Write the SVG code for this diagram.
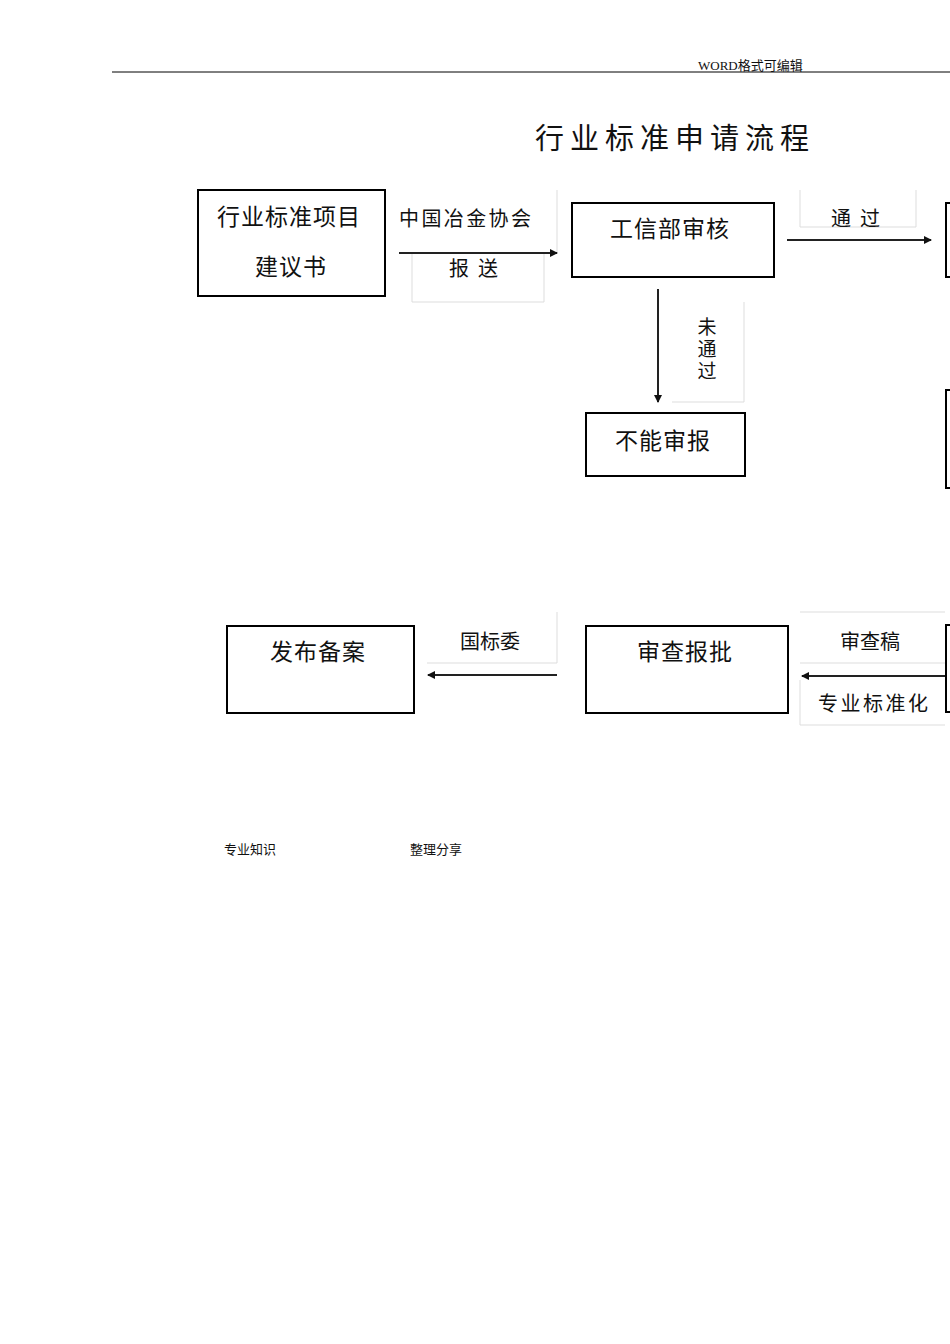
<svg xmlns="http://www.w3.org/2000/svg" width="950" height="1344" viewBox="0 0 950 1344">
<style>
text{font-family:"Noto Sans CJK SC","Liberation Serif",sans-serif;fill:#111}
.b{fill:none;stroke:#000;stroke-width:2}
.lb{fill:none;stroke:#ddd;stroke-width:1}
.c{stroke:#222;stroke-width:2;fill:none}
.t{font-size:23px;letter-spacing:1px}
.s{font-size:20px}
.v{font-size:19px;writing-mode:vertical-rl;letter-spacing:3px}
</style>
<defs><marker id="a" markerWidth="8" markerHeight="8" refX="7" refY="4" orient="auto" markerUnits="userSpaceOnUse"><path d="M0,0 L8,4 L0,8 Z" fill="#111"/></marker></defs>
<rect width="950" height="1344" fill="#fff"/>
<line x1="112" y1="72" x2="950" y2="72" stroke="#000" stroke-width="1"/>
<text x="698" y="70" style="font-family:'Liberation Serif','Noto Sans CJK SC',serif;font-size:13px">WORD格式可编辑</text>
<text x="535" y="149" style="font-size:29px;letter-spacing:6px">行业标准申请流程</text>
<g id="labels">
<polyline class="lb" points="557,190 557,253"/>
<polyline class="lb" points="412,253 412,302 544,302 544,253"/>
<polyline class="lb" points="800,190 800,227 916,227 916,190"/>
<polyline class="lb" points="744,302 744,402 672,402"/>
<polyline class="lb" points="427,663 557,663 557,612"/>
<polyline class="lb" points="800,612 945,612"/>
<polyline class="lb" points="800,663 945,663"/>
<polyline class="lb" points="800,680 800,725 945,725"/>
<text class="s" x="399" y="226" textLength="132">中国冶金协会</text>
<text class="s" x="449" y="276" xml:space="preserve">报  送</text>
<text class="s" x="831" y="226" xml:space="preserve">通  过</text>
<text class="v" x="707" y="317">未通过</text>
<text class="s" x="460" y="649">国标委</text>
<text class="s" x="840" y="649">审查稿</text>
<text class="s" x="818" y="711" textLength="110">专业标准化</text>
</g>
<g id="n1"><rect class="b" x="198" y="190" width="187" height="106"/><text class="t" x="217" y="225">行业标准项目</text><text class="t" x="255" y="275">建议书</text></g>
<g id="n2"><rect class="b" x="572" y="203" width="202" height="74"/><text class="t" x="610" y="237">工信部审核</text></g>
<g id="n3"><rect class="b" x="586" y="413" width="159" height="63"/><text class="t" x="615" y="449">不能审报</text></g>
<g id="n4"><rect class="b" x="946" y="203" width="20" height="74"/></g>
<g id="n5"><rect class="b" x="946" y="390" width="20" height="98"/></g>
<g id="n6"><rect class="b" x="946" y="625" width="20" height="87"/></g>
<g id="n7"><rect class="b" x="586" y="626" width="202" height="87"/><text class="t" x="637" y="660">审查报批</text></g>
<g id="n8"><rect class="b" x="227" y="626" width="187" height="87"/><text class="t" x="270" y="660">发布备案</text></g>
<g id="connectors">
<line class="c" x1="399" y1="253" x2="557" y2="253" marker-end="url(#a)"/>
<line class="c" x1="787" y1="240" x2="931" y2="240" marker-end="url(#a)"/>
<line class="c" x1="658" y1="289" x2="658" y2="402" marker-end="url(#a)"/>
<line class="c" x1="945" y1="676" x2="802" y2="676" marker-end="url(#a)"/>
<line class="c" x1="557" y1="675" x2="428" y2="675" marker-end="url(#a)"/>
</g>
<text x="224" y="854" style="font-size:13px">专业知识</text>
<text x="410" y="854" style="font-size:13px">整理分享</text>
</svg>
